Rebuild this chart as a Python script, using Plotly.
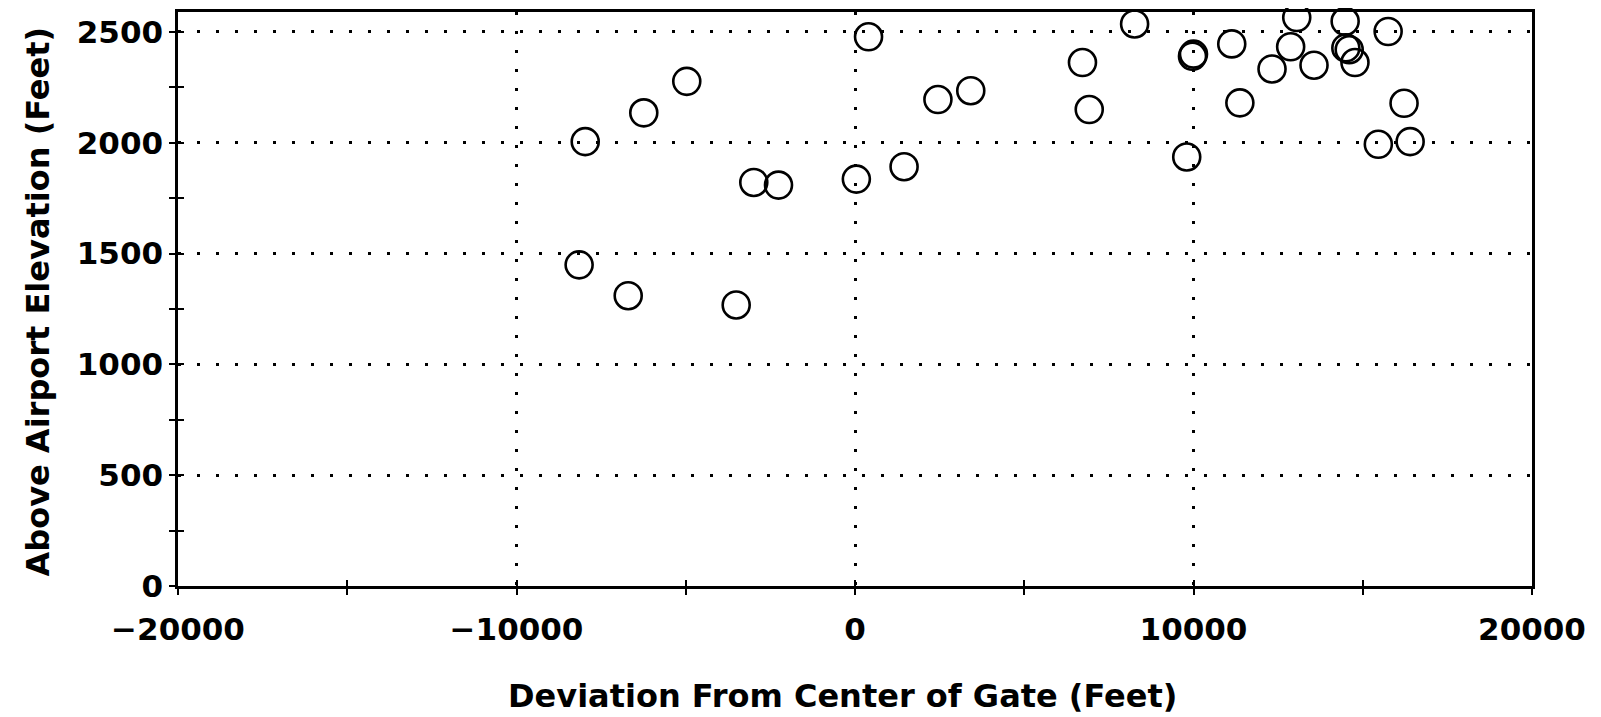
import plotly.graph_objects as go

# Deviation from center of gate (feet)
deviation = [-7970, -6240, -4970, 400, -2990, -2260, 40, 1450, -8150, -6700,
             -3510, 2450, 3420, 6720, 6920, 8260, 9800, 10000, 9970, 11130,
             11370, 12320, 12870, 13050, 13560, 14480, 14500, 14600, 14770,
             15750, 16220, 15460, 16400]
# Height above airport elevation (feet)
elevation = [2005, 2135, 2277, 2478, 1821, 1809, 1836, 1892, 1449, 1310,
             1268, 2195, 2235, 2362, 2150, 2536, 1936, 2400, 2390, 2446,
             2180, 2333, 2433, 2565, 2350, 2548, 2428, 2420, 2362,
             2502, 2178, 1993, 2005]

x_ticks = [-20000, -10000, 0, 10000, 20000]
x_tick_text = ["\u221220000", "\u221210000", "0", "10000", "20000"]
y_ticks = [0, 500, 1000, 1500, 2000, 2500]
y_tick_text = ["0", "500", "1000", "1500", "2000", "2500"]
x_title = "Deviation From Center of Gate (Feet)"
y_title = "Above Airport Elevation (Feet)"

FONT = "DejaVu Sans"
OFF = 8                      # default page body margin
W, H = 1601 - OFF, 717 - OFF
PL, PR, PT, PB = 178, 1532, 9, 586   # plot area in page pixels
ML, MT = PL - OFF, PT - OFF
MR = W - (PR - OFF)
MB = H - (PB - OFF)
XR = [-20000, 20000]
YR = [0, 2590]

fig = go.Figure()
fig.add_trace(go.Scatter(
    x=deviation, y=elevation, mode="markers",
    marker=dict(symbol="circle-open", size=27, color="black",
                line=dict(width=2.6, color="black")),
    cliponaxis=False, showlegend=False, hoverinfo="x+y"))
# invisible trace to instantiate overlay axes (inner tick halves)
fig.add_trace(go.Scatter(x=[XR[0]], y=[YR[0]], xaxis="x2", yaxis="y2",
                         mode="markers", marker=dict(opacity=0),
                         showlegend=False, hoverinfo="skip"))

grid = dict(showgrid=True, gridcolor="black", gridwidth=2.5,
            griddash="2.5px,16.5px")
tickfont = dict(family=FONT, size=31, color="black", weight="bold")
fig.update_layout(
    width=W, height=H, autosize=False,
    margin=dict(l=ML, r=MR, t=MT, b=MB, pad=0),
    paper_bgcolor="white", plot_bgcolor="white",
    font=dict(family=FONT, color="black"),
    xaxis=dict(range=XR, tickvals=x_ticks, ticktext=x_tick_text,
               ticks="outside", ticklen=6, tickwidth=2, tickcolor="black",
               minor=dict(dtick=5000, tick0=0, ticks="outside", ticklen=6,
                          tickwidth=2, tickcolor="black", showgrid=False),
               showline=True, linecolor="black", linewidth=2.5, mirror=True,
               zeroline=False, ticklabelstandoff=8, tickfont=tickfont,
               **grid),
    yaxis=dict(range=YR, tickvals=y_ticks, ticktext=y_tick_text,
               ticks="outside", ticklen=6, tickwidth=2, tickcolor="black",
               minor=dict(dtick=250, tick0=0, ticks="outside", ticklen=6,
                          tickwidth=2, tickcolor="black", showgrid=False),
               showline=True, linecolor="black", linewidth=2.5, mirror=True,
               zeroline=False, ticklabelstandoff=0, tickfont=tickfont,
               **grid),
    xaxis2=dict(range=XR, overlaying="x", anchor="y2", side="bottom",
                tickvals=x_ticks, ticks="inside", ticklen=6, tickwidth=2,
                tickcolor="black", showticklabels=False, showgrid=False,
                zeroline=False, showline=False,
                minor=dict(dtick=5000, tick0=0, ticks="inside", ticklen=6,
                           tickwidth=2, tickcolor="black", showgrid=False)),
    yaxis2=dict(range=YR, overlaying="y", anchor="x2", side="left",
                tickvals=y_ticks, ticks="inside", ticklen=6, tickwidth=2,
                tickcolor="black", showticklabels=False, showgrid=False,
                zeroline=False, showline=False,
                minor=dict(dtick=250, tick0=0, ticks="inside", ticklen=6,
                           tickwidth=2, tickcolor="black", showgrid=False)),
)

pw = PR - PL
ph = PB - PT
fig.add_annotation(text=x_title, xref="paper", yref="paper",
                   x=(842 - PL) / pw, y=(PB - 697) / ph,
                   xanchor="center", yanchor="middle", showarrow=False,
                   font=dict(family=FONT, size=32, color="black", weight="bold"))
fig.add_annotation(text=y_title, xref="paper", yref="paper",
                   x=(38 - PL) / pw, y=(PB - 300) / ph, textangle=-90,
                   xanchor="center", yanchor="middle", showarrow=False,
                   font=dict(family=FONT, size=32, color="black", weight="bold"))

fig.write_html("out.html")
